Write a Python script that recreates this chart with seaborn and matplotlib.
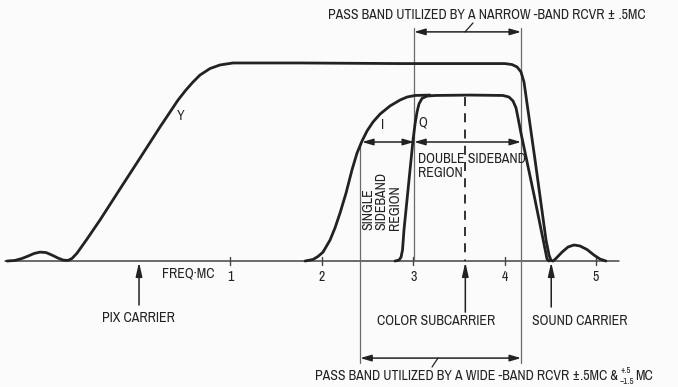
import numpy as np
import pandas as pd
import matplotlib
matplotlib.use("Agg")
import matplotlib.pyplot as plt
import seaborn as sns
from matplotlib import font_manager as fm

# ---- response curves: frequency (MC) vs relative amplitude ----
y_freq = [-1.444, -1.357, -1.280, -1.214, -1.149, -1.083, -1.018, -0.952, -0.886, -0.832,
          -0.777, -0.733, -0.678, -0.569, -0.427, -0.208, 0.011, 0.230, 0.427, 0.514,
          0.591, 0.667, 0.777, 0.886, 1.028, 1.761, 2.856, 4.004, 4.081, 4.136,
          4.179, 4.212, 4.333, 4.453, 4.486, 4.508, 4.530, 4.562, 4.628, 4.694,
          4.759, 4.825, 4.902, 4.978, 5.044, 5.109]
y_amp = [0.000, 0.003, 0.013, 0.025, 0.038, 0.045, 0.043, 0.030, 0.015, 0.005,
         0.003, 0.013, 0.040, 0.111, 0.207, 0.364, 0.520, 0.677, 0.813, 0.864,
         0.904, 0.939, 0.972, 0.990, 1.000, 1.000, 0.997, 0.997, 0.992, 0.980,
         0.955, 0.904, 0.510, 0.106, 0.030, 0.003, 0.000, 0.013, 0.045, 0.071,
         0.081, 0.076, 0.058, 0.030, 0.010, 0.000]

i_freq = [1.816, 1.904, 1.958, 2.013, 2.090, 2.144, 2.199, 2.265, 2.330, 2.385,
          2.440, 2.495, 2.560, 2.637, 2.746, 2.856, 2.932, 3.020, 3.184]
i_amp = [0.000, 0.008, 0.023, 0.045, 0.106, 0.167, 0.242, 0.343, 0.460, 0.545,
         0.606, 0.657, 0.702, 0.742, 0.783, 0.813, 0.828, 0.836, 0.838]

q_freq = [2.801, 2.845, 2.867, 2.883, 2.899, 2.943, 2.976, 2.998, 3.020, 3.042,
          3.063, 3.096, 3.151, 3.239, 3.621, 3.982, 4.048, 4.092, 4.125, 4.147,
          4.179, 4.322, 4.431, 4.464, 4.486]
q_amp = [0.000, 0.005, 0.020, 0.056, 0.157, 0.359, 0.510, 0.611, 0.692, 0.753,
         0.793, 0.821, 0.833, 0.836, 0.838, 0.836, 0.828, 0.808, 0.773, 0.722,
         0.646, 0.333, 0.086, 0.010, 0.000]

# ---- key frequencies (MC) ----
tick_values = [1, 2, 3, 4, 5]
tick_labels = ["1", "2", "3", "4", "5"]
pix_carrier = 0.0
color_subcarrier = 3.57
sound_carrier = 4.51
wide_band = [2.42, 4.18]
narrow_band = [3.01, 4.18]

curves = pd.concat([
    pd.DataFrame({"freq": y_freq, "amp": y_amp, "signal": "Y"}),
    pd.DataFrame({"freq": i_freq, "amp": i_amp, "signal": "I"}),
    pd.DataFrame({"freq": q_freq, "amp": q_amp, "signal": "Q"}),
])

sns.set_theme(style="white")


def lettering_font():
    """Prefer a narrow/condensed sans face for the drafting-style lettering."""
    entries = fm.fontManager.ttflist
    for key in ("Narrow", "Condensed"):
        for f in entries:
            if key in f.name and f.weight in (400, "normal", "regular") and f.style == "normal":
                return f.name, "normal"
    for f in entries:
        if str(f.stretch) in ("condensed", "semi-condensed") and f.style == "normal" \
                and f.weight in (400, "normal", "regular"):
            return f.name, str(f.stretch)
    return "DejaVu Sans", "normal"


LETTER, STRETCH = lettering_font()
plt.rcParams["font.family"] = [LETTER, "DejaVu Sans"]
plt.rcParams["font.stretch"] = STRETCH

INK = "#222222"
THIN = "#6a6a6a"

fig = plt.figure(figsize=(6.78, 3.87), dpi=100)
fig.patch.set_facecolor("#fbfbfb")
ax = fig.add_axes([0, 0, 1, 1])
ax.set_facecolor("#fbfbfb")
ax.set_xlim(-1.521, 5.897)
ax.set_ylim(-0.636, 1.318)
ax.set_axis_off()

# size the lettering so the headline spans its dimension width (about 330 px)
TOP_LABEL = "PASS BAND UTILIZED BY A NARROW -BAND RCVR ± .5MC"
probe = ax.text(0, 0, TOP_LABEL, fontsize=10)
renderer = fig.canvas.get_renderer()
w10 = probe.get_window_extent(renderer).width
probe.remove()
FS = min(10.0, 10.0 * 331.0 / w10)
SMALL = FS * 0.64

# frequency axis
ax.plot([-1.47, 5.25], [0, 0], color="#444444", lw=1.1, zorder=2)
for t, lab in zip(tick_values, tick_labels):
    ax.plot([t, t], [0.022, -0.022], color="#444444", lw=1.0)
    ax.text(t, -0.08, lab, ha="center", va="center", fontsize=FS, color=INK)
ax.text(0.536, -0.061, "FREQ·MC", ha="center", va="center", fontsize=FS, color=INK)

# response curves
for name, grp in curves.groupby("signal", sort=False):
    sns.lineplot(data=grp, x="freq", y="amp", sort=False, estimator=None,
                 color=INK, lw=2.0, ax=ax, legend=False, zorder=4,
                 solid_joinstyle="round", solid_capstyle="round")

ax.text(0.46, 0.732, "Y", ha="center", va="center", fontsize=FS, color=INK)
ax.text(2.67, 0.687, "I", ha="center", va="center", fontsize=FS, color=INK)
ax.text(3.107, 0.697, "Q", ha="center", va="center", fontsize=FS, color=INK)

# pass band boundary lines
ax.plot([wide_band[0]] * 2, [0.601, -0.515], color=THIN, lw=0.9, zorder=3)
ax.plot([narrow_band[0]] * 2, [1.177, 0.0], color=THIN, lw=0.9, zorder=3)
ax.plot([wide_band[1]] * 2, [1.177, -0.515], color=THIN, lw=0.9, zorder=3)
ax.plot([color_subcarrier] * 2, [0.828, 0.0], color=INK, lw=1.3,
        dashes=(5, 4), zorder=3)

ARROW = dict(arrowstyle="<|-|>,head_length=0.55,head_width=0.16",
             color=INK, lw=1.1, shrinkA=0, shrinkB=0, mutation_scale=12)
UP = dict(arrowstyle="-|>,head_length=0.7,head_width=0.16",
          color=INK, lw=1.1, shrinkA=0, shrinkB=0, mutation_scale=12)

# sideband region dimensions
ax.annotate("", xy=(2.44, 0.601), xytext=(narrow_band[0], 0.601), arrowprops=ARROW)
ax.annotate("", xy=(narrow_band[0], 0.601), xytext=(narrow_band[1], 0.601), arrowprops=ARROW)
ax.text(3.053, 0.515, "DOUBLE SIDEBAND", ha="left", va="center", fontsize=FS, color=INK)
ax.text(3.053, 0.444, "REGION", ha="left", va="center", fontsize=FS, color=INK)
for fx, word in zip([2.505, 2.655, 2.800], ["SINGLE", "SIDEBAND", "REGION"]):
    ax.text(fx, 0.157, word, rotation=90, rotation_mode="anchor", ha="left",
            va="center", fontsize=FS, color=INK)

# narrow-band pass band
ax.annotate("", xy=(narrow_band[0], 1.157), xytext=(narrow_band[1], 1.157), arrowprops=ARROW)
ax.plot([3.567, 3.654], [1.157, 1.202], color=INK, lw=0.9)
ax.text(3.81, 1.242, TOP_LABEL, ha="center", va="center", fontsize=FS, color=INK)

# wide-band pass band
ax.annotate("", xy=(wide_band[0], -0.490), xytext=(wide_band[1], -0.490), arrowprops=ARROW)
ax.plot([3.271, 3.206], [-0.490, -0.535], color=INK, lw=0.9)
main = ax.text(1.926, -0.581, "PASS BAND UTILIZED BY A WIDE -BAND RCVR ±.5MC &",
               ha="left", va="center", fontsize=FS, color=INK)
ax.annotate("+.5", xy=(1, 0.5), xycoords=main, xytext=(2.0, 0.8),
            textcoords="offset points", ha="left", va="bottom", fontsize=SMALL, color=INK)
ax.annotate("−1.5", xy=(1, 0.5), xycoords=main, xytext=(1.5, -0.3),
            textcoords="offset points", ha="left", va="top", fontsize=SMALL, color=INK)
ax.annotate("MC", xy=(1, 0.5), xycoords=main, xytext=(12.5, 0),
            textcoords="offset points", ha="left", va="center", fontsize=FS, color=INK)

# carrier markers
for fx, top in [(pix_carrier, -0.222), (color_subcarrier, -0.258), (sound_carrier, -0.232)]:
    ax.annotate("", xy=(fx, -0.006), xytext=(fx, top), arrowprops=UP)
ax.text(-0.01, -0.288, "PIX CARRIER", ha="center", va="center", fontsize=FS, color=INK)
ax.text(3.249, -0.303, "COLOR SUBCARRIER", ha="center", va="center", fontsize=FS, color=INK)
ax.text(4.825, -0.303, "SOUND CARRIER", ha="center", va="center", fontsize=FS, color=INK)

fig.savefig("out.png", dpi=100, facecolor=fig.get_facecolor())
